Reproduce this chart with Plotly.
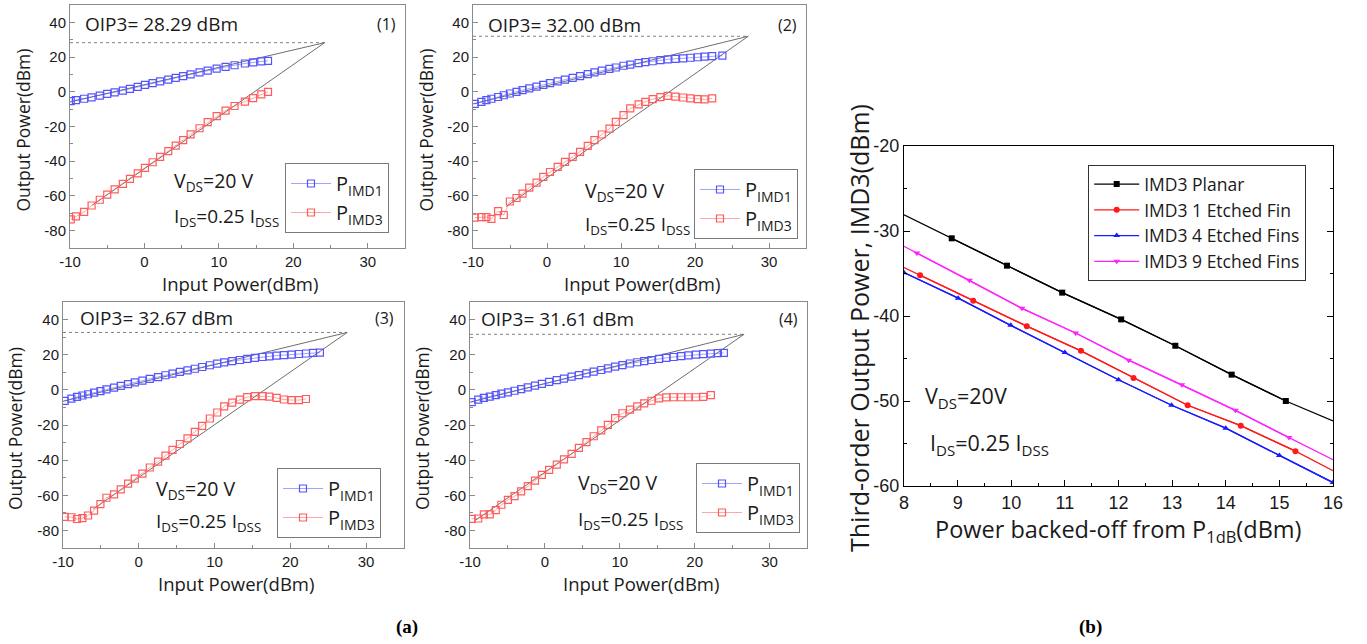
import plotly.graph_objects as go

W, H = 1367, 644

# ---------------- Panel (a) data ----------------
# Panel 1
p1_x = [-9.9, -9.2, -8.1, -7.1, -6.0, -5.0, -4.0, -2.9, -1.95, -0.9, 0.07, 1.1, 2.1, 3.2, 4.2,
        5.2, 6.2, 7.4, 8.5, 9.7, 10.9, 12.1, 13.5, 14.6, 15.7, 16.6]
p1_imd1 = [-5.4, -4.8, -4.0, -3.2, -2.2, -1.2, -0.3, 0.7, 1.7, 2.8, 4.0, 5.0, 6.0, 7.0, 8.0,
           9.0, 10.0, 11.2, 12.2, 13.3, 14.3, 15.3, 16.3, 17.0, 17.5, 17.8]
p1_imd3 = [-73.5, -71.8, -69.2, -65.5, -62.2, -59.2, -56.2, -53.0, -50.2, -47.0, -43.8, -40.6,
           -37.5, -34.2, -31.0, -27.8, -24.5, -21.0, -17.5, -14.0, -10.8, -8.2, -5.7, -3.6, -1.5, 0.0]

# Panel 2
p2_x3 = [-9.77, -8.87, -8.19, -7.51, -6.61, -5.84, -5.02, -4.12, -3.31, -2.4, -1.41, -0.5, 0.4,
         1.44, 2.43, 3.47, 4.47, 5.51, 6.41, 7.41, 8.44, 9.3, 10.34, 11.25, 12.38, 13.28, 14.28,
         15.32, 16.31, 17.35, 18.39, 19.38, 20.38, 21.28, 22.32]
p2_imd3 = [-72.5, -72.2, -72.2, -73.2, -68.7, -71.0, -63.2, -61.2, -58.7, -55.2, -52.3, -49.0,
           -46.2, -43.3, -40.4, -37.5, -34.6, -31.2, -27.9, -24.6, -21.2, -17.3, -13.5, -9.6,
           -7.3, -5.8, -4.2, -3.1, -2.3, -2.8, -3.3, -3.8, -4.2, -4.4, -3.8]
p2_x1 = p2_x3 + [23.7]
p2_imd1 = [-7.0, -5.8, -4.8, -4.0, -3.0, -2.0, -1.0, 0.0, 1.0, 2.0, 3.0, 4.0, 5.0, 6.0, 7.0, 8.0,
           9.0, 10.2, 11.2, 12.2, 13.2, 14.0, 15.0, 15.7, 16.5, 17.1, 17.6, 18.2, 18.7, 19.0,
           19.3, 19.6, 19.9, 20.2, 20.5, 20.8]

# Panel 3
p3_x3 = [-9.78, -8.89, -8.15, -7.44, -6.69, -5.9, -5.06, -4.27, -3.26, -2.38, -1.41, -0.53, 0.48,
         1.45, 2.55, 3.52, 4.45, 5.42, 6.43, 7.4, 8.37, 9.38, 10.35, 11.27, 12.33, 13.34, 14.31,
         15.32, 16.34, 17.22, 18.19, 19.16, 20.17, 21.14, 22.06]
p3_imd3 = [-72.3, -72.5, -73.5, -73.0, -71.5, -68.7, -65.0, -61.4, -59.5, -56.6, -53.4, -50.5,
           -47.7, -44.2, -40.9, -37.4, -34.2, -30.8, -27.6, -23.9, -20.5, -16.3, -12.9, -9.4,
           -7.3, -5.6, -4.1, -3.6, -3.6, -3.8, -4.6, -5.5, -5.8, -5.8, -5.2]
p3_x1 = p3_x3 + [23.0, 23.9]
p3_imd1 = [-6.3, -5.0, -4.0, -3.2, -2.5, -1.6, -0.7, 0.3, 1.3, 2.3, 3.3, 4.3, 5.3, 6.3, 7.3, 8.3,
           9.2, 10.2, 11.1, 12.0, 13.0, 14.0, 14.9, 15.6, 16.3, 17.0, 17.6, 18.2, 18.7, 19.1,
           19.5, 19.8, 20.1, 20.4, 20.7, 21.0, 21.2]

# Panel 4
p4_x3 = [-9.78, -8.9, -8.15, -7.36, -6.56, -5.81, -4.93, -4.05, -3.17, -2.29, -1.32, -0.4, 0.57,
         1.59, 2.55, 3.57, 4.54, 5.55, 6.52, 7.53, 8.41, 9.38, 10.35, 11.36, 12.33, 13.26, 14.23,
         15.24, 16.21, 17.18, 18.19, 19.16, 20.17, 21.14, 22.16]
p4_imd3 = [-73.4, -73.2, -70.9, -70.9, -68.4, -65.4, -62.6, -60.5, -57.8, -54.8, -51.6, -48.4,
           -45.5, -42.5, -39.6, -36.4, -33.0, -29.8, -26.4, -23.1, -19.9, -16.1, -13.3, -11.2,
           -9.4, -7.7, -6.2, -4.9, -4.3, -4.2, -4.2, -4.2, -4.2, -4.0, -3.0]
p4_x1 = p4_x3 + [23.1, 23.9]
p4_imd1 = [-7.0, -5.6, -4.6, -3.8, -3.0, -2.2, -1.4, -0.5, 0.4, 1.4, 2.4, 3.4, 4.5, 5.5, 6.4, 7.5,
           8.4, 9.4, 10.4, 11.3, 12.2, 13.2, 14.1, 15.0, 15.7, 16.4, 17.0, 17.6, 18.2, 18.7,
           19.2, 19.6, 20.0, 20.3, 20.6, 20.9, 21.0]

# OIP3 values and extrapolation lines (start points and intercept)
oip3 = [28.29, 32.00, 32.67, 31.61]
oip3_xint = [24.2, 27.2, 27.5, 26.6]
fit1_start = [(-10, -5.9), (-10, -7.0), (-10, -6.5), (-10, -7.0)]
fit3_start = [(-7.0, -65.3), (-5.5, -66.1), (-6.0, -67.8), (-9.3, -74.3)]
panel_labels = ["(1)", "(2)", "(3)", "(4)"]

# ---------------- Panel (b) data ----------------
b_names = ["IMD3 Planar", "IMD3 1 Etched Fin", "IMD3 4 Etched Fins", "IMD3 9 Etched Fins"]
b_planar_x = [8.0, 8.89, 9.92, 10.95, 12.05, 13.06, 14.11, 15.12, 16.0]
b_planar_y = [-28.1, -30.86, -34.08, -37.25, -40.4, -43.5, -46.9, -50.0, -52.35]
b_fin1_x = [8.0, 8.3, 9.29, 10.29, 11.3, 12.28, 13.29, 14.28, 15.3, 16.0]
b_fin1_y = [-34.3, -35.2, -38.2, -41.2, -44.1, -47.3, -50.5, -52.9, -55.9, -58.2]
b_fin4_x = [8.0, 9.01, 9.99, 11.0, 12.0, 12.99, 14.0, 15.0, 16.0]
b_fin4_y = [-34.9, -37.9, -41.1, -44.3, -47.5, -50.5, -53.2, -56.4, -59.6]
b_fin9_x = [8.0, 8.24, 9.22, 10.2, 11.2, 12.19, 13.18, 14.18, 15.18, 16.0]
b_fin9_y = [-31.8, -32.6, -35.8, -39.1, -42.0, -45.2, -48.1, -51.1, -54.3, -56.9]

a_xticks = [-10, 0, 10, 20, 30]
a_xticktext = ["-10", "0", "10", "20", "30"]
a_yticks = [-80, -60, -40, -20, 0, 20, 40]
a_yticktext = ["-80", "-60", "-40", "-20", "0", "20", "40"]
b_xticks = [8, 9, 10, 11, 12, 13, 14, 15, 16]
b_yticks = [-60, -50, -40, -30, -20]
b_yticktext = ["-60", "-50", "-40", "-30", "-20"]

# ---------------- layout geometry (pixels) ----------------
boxes = [  # x0, x1, y0(top), y1(bottom)
    (70, 405, 5, 248),
    (473, 806, 5, 248),
    (63, 404, 302, 548),
    (470, 807, 302, 548),
]
box_b = (904, 1333, 146, 486)
legend_boxes = [(285, 163), (694, 169), (277, 468), (696, 463)]  # left, top
text_pos = [  # (oip x,y), (vds x,y), (ids y)
    ((-8.25, 39.0), (3.7, -51.8), -71.9),
    ((-8.2, 38.4), (4.9, -57.5), -77.0),
    ((-8.0, 40.9), (2.0, -56.7), -75.4),
    ((-8.8, 40.4), (4.1, -53.5), -74.3),
]


def px(x):
    return x / W


def py(y):
    return 1 - y / H


fig = go.Figure()
layout = dict(width=W, height=H, margin=dict(l=0, r=0, t=0, b=0, autoexpand=False),
              paper_bgcolor="white", plot_bgcolor="white", showlegend=True)
annotations = []

BLUE = "#5555ff"
RED = "#ff5c5c"
GRAY = "#6e6e6e"
AX = "#8a8a8a"
TXT = "#1a1a1a"


def ann(**kw):
    kw.setdefault("xanchor", "center")
    kw.setdefault("yanchor", "middle")
    kw.setdefault("showarrow", False)
    return kw


series = [
    (p1_x, p1_imd1, p1_x, p1_imd3),
    (p2_x1, p2_imd1, p2_x3, p2_imd3),
    (p3_x1, p3_imd1, p3_x3, p3_imd3),
    (p4_x1, p4_imd1, p4_x3, p4_imd3),
]

for i in range(4):
    n = i + 1
    xa = "x" if n == 1 else f"x{n}"
    ya = "y" if n == 1 else f"y{n}"
    lg = "legend" if n == 1 else f"legend{n}"
    x1s, y1s, x3s, y3s = series[i]
    xi, oi = oip3_xint[i], oip3[i]
    # dotted OIP3 level
    fig.add_trace(go.Scatter(x=[-10, xi], y=[oi, oi], mode="lines", xaxis=xa, yaxis=ya,
                             line=dict(color="#808080", width=1, dash="dot"), showlegend=False,
                             hoverinfo="skip"))
    # extrapolation lines
    fig.add_trace(go.Scatter(x=[fit1_start[i][0], xi], y=[fit1_start[i][1], oi], mode="lines",
                             xaxis=xa, yaxis=ya, line=dict(color=GRAY, width=1), showlegend=False))
    fig.add_trace(go.Scatter(x=[fit3_start[i][0], xi], y=[fit3_start[i][1], oi], mode="lines",
                             xaxis=xa, yaxis=ya, line=dict(color=GRAY, width=1), showlegend=False))
    fig.add_trace(go.Scatter(x=x1s, y=y1s, mode="lines+markers", xaxis=xa, yaxis=ya, legend=lg,
                             name="P<sub>IMD1</sub>",
                             line=dict(color="rgba(85,85,255,0.55)", width=1),
                             marker=dict(symbol="square-open", size=7, color=BLUE,
                                         line=dict(width=1.2, color=BLUE))))
    fig.add_trace(go.Scatter(x=x3s, y=y3s, mode="lines+markers", xaxis=xa, yaxis=ya, legend=lg,
                             name="P<sub>IMD3</sub>",
                             line=dict(color="rgba(255,92,92,0.55)", width=1),
                             marker=dict(symbol="square-open", size=7, color=RED,
                                         line=dict(width=1.2, color=RED))))

    x0, x1, y0, y1 = boxes[i]
    xkey = "xaxis" if n == 1 else f"xaxis{n}"
    ykey = "yaxis" if n == 1 else f"yaxis{n}"
    layout[xkey] = dict(domain=[px(x0), px(x1)], anchor=ya, range=[-10, 35], automargin=False,
                        tickvals=a_xticks, ticktext=a_xticktext, ticks="inside", ticklen=5,
                        tickcolor=AX, linecolor=AX, linewidth=1, mirror=True, showgrid=False,
                        zeroline=False, tickfont=dict(family="Liberation Sans", size=15, color=TXT),
                        minor=dict(dtick=5, tick0=-10, ticks="inside", ticklen=3, tickcolor=AX))
    layout[ykey] = dict(domain=[py(y1), py(y0)], anchor=xa, range=[-90, 50], automargin=False,
                        tickvals=a_yticks, ticktext=a_yticktext, ticks="inside", ticklen=5,
                        tickcolor=AX, linecolor=AX, linewidth=1, mirror=True, showgrid=False,
                        zeroline=False, tickfont=dict(family="Liberation Sans", size=15, color=TXT),
                        minor=dict(dtick=10, tick0=-90, ticks="inside", ticklen=3, tickcolor=AX))
    lx, ly = legend_boxes[i]
    layout[lg] = dict(x=px(lx), y=py(ly), xanchor="left", yanchor="top",
                      bordercolor="#7a7a7a", borderwidth=1, bgcolor="white",
                      font=dict(family="Open Sans", size=20, color=TXT),
                      tracegroupgap=0, itemwidth=40)

    (ox, oy), (vx, vy), iy = text_pos[i]
    annotations += [
        ann(x=ox, y=oy, xref=xa, yref=ya, text=f"OIP3= {oi:.2f} dBm", xanchor="left",
            font=dict(family="Open Sans", size=19, color=TXT)),
        ann(x=34, y=oy, xref=xa, yref=ya, text=panel_labels[i], xanchor="right",
            font=dict(family="Open Sans", size=16, color=TXT)),
        ann(x=vx, y=vy, xref=xa, yref=ya, text="V<sub>DS</sub>=20 V", xanchor="left",
            font=dict(family="Open Sans", size=19.5, color=TXT)),
        ann(x=vx, y=iy, xref=xa, yref=ya, text="I<sub>DS</sub>=0.25 I<sub>DSS</sub>",
            xanchor="left", font=dict(family="Open Sans", size=19, color=TXT)),
        ann(x=px(x0 - 48), y=py((y0 + y1) / 2 + 4), xref="paper", yref="paper",
            text="Output Power(dBm)", textangle=-90,
            font=dict(family="Open Sans", size=17.5, color=TXT)),
        ann(x=px((x0 + x1) / 2 + 2), y=py(y1 + 35), xref="paper", yref="paper",
            text="Input Power(dBm)", font=dict(family="Open Sans", size=18.5, color=TXT)),
    ]

# ---------------- Panel (b) ----------------
b_series = [
    (b_planar_x, b_planar_y, "black", "square", (1, -1)),
    (b_fin1_x, b_fin1_y, "#ff1a1a", "circle", (1, -1)),
    (b_fin4_x, b_fin4_y, "#1a1aff", "triangle-up", (0, None)),
    (b_fin9_x, b_fin9_y, "#ff22ff", "triangle-down", (1, -1)),
]
for (bx, by, col, sym, (s0, s1)), nm in zip(b_series, b_names):
    fig.add_trace(go.Scatter(x=bx, y=by, mode="lines", xaxis="x5", yaxis="y5",
                             line=dict(color=col, width=1.3), showlegend=False))
    fig.add_trace(go.Scatter(x=bx[s0:s1], y=by[s0:s1], mode="lines+markers", xaxis="x5",
                             yaxis="y5", name=nm, legend="legend5",
                             line=dict(color=col, width=1.3),
                             marker=dict(symbol=sym, size=6, color=col)))

bx0, bx1, by0, by1 = box_b
layout["xaxis5"] = dict(domain=[px(bx0), px(bx1)], anchor="y5", range=[8, 16], tickvals=b_xticks,
                        ticks="inside", ticklen=6, tickcolor="black", linecolor="black",
                        linewidth=1.2, mirror=True, showgrid=False, zeroline=False, automargin=False,
                        tickfont=dict(family="Liberation Sans", size=18, color=TXT),
                        minor=dict(dtick=0.5, tick0=8, ticks="inside", ticklen=3, tickcolor="black"))
layout["yaxis5"] = dict(domain=[py(by1), py(by0)], anchor="x5", range=[-60, -20],
                        tickvals=b_yticks, ticktext=b_yticktext, automargin=False,
                        ticks="inside", ticklen=6, tickcolor="black", linecolor="black",
                        linewidth=1.2, mirror="allticks", showgrid=False, zeroline=False,
                        tickfont=dict(family="Liberation Sans", size=18, color=TXT),
                        minor=dict(dtick=5, tick0=-60, ticks="inside", ticklen=3, tickcolor="black"))
layout["legend5"] = dict(x=px(1088), y=py(165), xanchor="left", yanchor="top",
                         bordercolor="#333", borderwidth=1.2, bgcolor="white",
                         font=dict(family="Open Sans", size=17.5, color=TXT), tracegroupgap=0,
                         itemwidth=45)

annotations += [
    ann(x=8.35, y=-49.5, xref="x5", yref="y5", text="V<sub>DS</sub>=20V", xanchor="left",
        font=dict(family="Open Sans", size=21.5, color=TXT)),
    ann(x=8.45, y=-55.1, xref="x5", yref="y5", text="I<sub>DS</sub>=0.25 I<sub>DSS</sub>",
        xanchor="left", font=dict(family="Open Sans", size=21.5, color=TXT)),
    ann(x=px(859), y=py(328), xref="paper", yref="paper",
        text="Third-order Output Power, IMD3(dBm)", textangle=-90,
        font=dict(family="Open Sans", size=25, color=TXT)),
    ann(x=px(1118), y=py(530), xref="paper", yref="paper",
        text="Power backed-off from P<sub>1dB</sub>(dBm)",
        font=dict(family="Open Sans", size=23.5, color=TXT)),
    ann(x=px(407), y=py(627), xref="paper", yref="paper", text="<b>(a)</b>",
        font=dict(family="Liberation Serif", size=19, color="black")),
    ann(x=px(1090), y=py(627), xref="paper", yref="paper", text="<b>(b)</b>",
        font=dict(family="Liberation Serif", size=19, color="black")),
]

layout["annotations"] = annotations
fig.update_layout(**layout)
fig.write_html("out.html", config={"displayModeBar": False},
               post_script="document.body.style.margin='0px';")
